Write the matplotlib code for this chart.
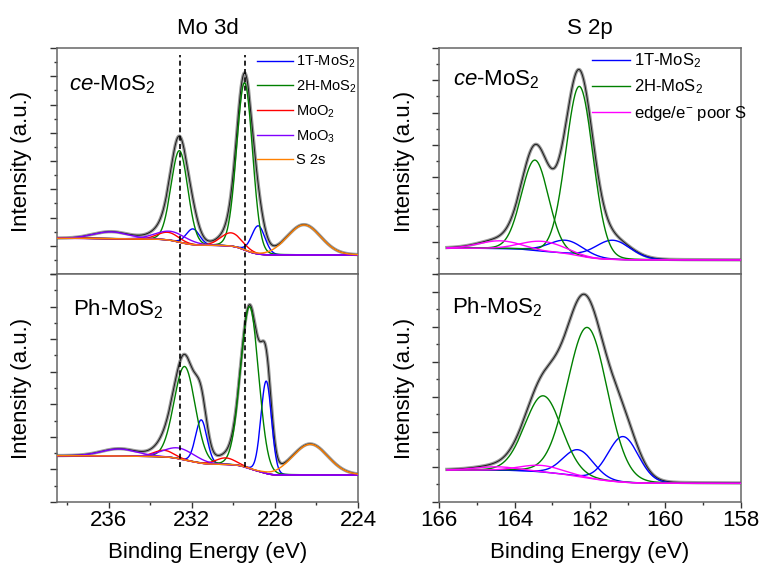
import numpy as np
import matplotlib
matplotlib.use("Agg")
import matplotlib.pyplot as plt
from matplotlib.ticker import MultipleLocator, NullFormatter

plt.rcParams['font.family'] = ['Liberation Sans', 'DejaVu Sans']
plt.rcParams['mathtext.fontset'] = 'custom'
plt.rcParams['mathtext.rm'] = 'Liberation Sans'
plt.rcParams['mathtext.it'] = 'Liberation Sans:italic'
plt.rcParams['mathtext.bf'] = 'Liberation Sans:bold'

# ---------------- data ----------------
# binding-energy windows
mo_range = [238.5, 224.0]
s_range = [165.8, 158.0]
dash_positions = [232.58, 229.46]

# Mo 3d, ce-MoS2 : [centre eV], [height a.u.], [FWHM eV]
mo_ce_bg = [15.8, 8.4]
mo_ce_1t_pos = [228.8, 231.95]; mo_ce_1t_amp = [12.5, 7.0]; mo_ce_1t_w = [0.75, 0.75]
mo_ce_2h_pos = [229.46, 232.6]; mo_ce_2h_amp = [74.0, 40.5]; mo_ce_2h_w = [0.9, 0.95]
mo_ce_o2_pos = [230.1, 233.15]; mo_ce_o2_amp = [5.9, 3.4]; mo_ce_o2_w = [1.2, 1.2]
mo_ce_o3_pos = [233.0, 235.9]; mo_ce_o3_amp = [4.0, 3.0]; mo_ce_o3_w = [1.8, 2.0]
mo_ce_s2s_pos = [226.6]; mo_ce_s2s_amp = [13.3]; mo_ce_s2s_w = [1.9]

# Mo 3d, Ph-MoS2
mo_ph_bg = [20.3, 11.8]
mo_ph_1t_pos = [228.42, 231.55]; mo_ph_1t_amp = [40.5, 19.0]; mo_ph_1t_w = [0.6, 0.65]
mo_ph_2h_pos = [229.22, 232.35]; mo_ph_2h_amp = [71.0, 41.0]; mo_ph_2h_w = [1.02, 1.2]
mo_ph_o2_pos = [230.38, 233.35]; mo_ph_o2_amp = [2.9, 2.9]; mo_ph_o2_w = [1.1, 1.1]
mo_ph_o3_pos = [232.6, 235.5]; mo_ph_o3_amp = [4.7, 3.1]; mo_ph_o3_w = [1.8, 2.0]
mo_ph_s2s_pos = [226.3]; mo_ph_s2s_amp = [13.5]; mo_ph_s2s_w = [2.0]

# S 2p, ce-MoS2
s_ce_bg = [11.4, 6.2]
s_ce_1t_pos = [161.4, 162.62]; s_ce_1t_amp = [8.5, 5.9]; s_ce_1t_w = [1.1, 1.1]
s_ce_2h_pos = [162.28, 163.46]; s_ce_2h_amp = [75.0, 40.0]; s_ce_2h_w = [0.85, 0.85]
s_ce_ed_pos = [163.24, 164.39]; s_ce_ed_amp = [4.4, 3.4]; s_ce_ed_w = [1.3, 1.3]

# S 2p, Ph-MoS2
s_ph_bg = [14.0, 8.2]
s_ph_1t_pos = [161.12, 162.31]; s_ph_1t_amp = [20.0, 11.7]; s_ph_1t_w = [0.95, 0.95]
s_ph_2h_pos = [162.07, 163.24]; s_ph_2h_amp = [66.0, 33.5]; s_ph_2h_w = [1.25, 1.15]
s_ph_ed_pos = [163.28, 164.48]; s_ph_ed_amp = [2.9, 1.5]; s_ph_ed_w = [1.3, 1.3]

mo_labels = ['1T-MoS$_2$', '2H-MoS$_2$', 'MoO$_2$', 'MoO$_3$', 'S 2s']
s_labels = ['1T-MoS$_2$', '2H-MoS$_2$', 'edge/e$^{-}$ poor S']
mo_colors = ['#0000FF', '#008000', '#FF0000', '#8000FF', '#FF8000']
s_colors = ['#0000FF', '#008000', '#FF00FF']

# ---------------- helpers ----------------
ETA = 0.05


def one_peak(x, c, a, f):
    u = (x - c) / f
    return a * ((1 - ETA) * np.exp(-4 * np.log(2) * u ** 2) + ETA / (1 + 4 * u ** 2))


def shirley(x, total, bg):
    # x ascending; bg = [high-BE side, low-BE side]
    cum = np.concatenate([[0], np.cumsum(0.5 * (total[1:] + total[:-1]) * np.diff(x))])
    frac = cum / cum[-1]
    return bg[1] + (bg[0] - bg[1]) * frac


def draw_panel(ax, xr, comps, bg_vals, colors, labels, shirley_n):
    x = np.linspace(min(xr), max(xr), 1500)
    singles = [[one_peak(x, c, a, f) for c, a, f in zip(*comp)] for comp in comps]
    sums = [sum(s) for s in singles]
    bg = shirley(x, sum(sums[:shirley_n]), bg_vals)
    env = bg + sum(sums)
    ax.plot(x, env, color='#9a9a9a', lw=2.4, zorder=2)
    ax.plot(x, env, color='#1a1a1a', lw=0.7, zorder=3)
    handles = []
    for k, (group, col, lab) in enumerate(zip(singles, colors, labels)):
        for j, p in enumerate(group):
            h, = ax.plot(x, bg + p, color=col, lw=1.0, zorder=4 + k * 0.1)
            if j == 0:
                h.set_label(lab)
                handles.append(h)
    return handles


fig = plt.figure(figsize=(7.6, 5.69), dpi=100)
W, H = 760, 569


def add_ax(l, t, r, b):
    return fig.add_axes([l / W, 1 - b / H, (r - l) / W, (b - t) / H])


ax_mc = add_ax(57, 48, 358, 274)
ax_mp = add_ax(57, 274, 358, 502)
ax_sc = add_ax(439.3, 48, 740.7, 274)
ax_sp = add_ax(439.3, 274, 740.7, 502)

mo_ce = [(mo_ce_1t_pos, mo_ce_1t_amp, mo_ce_1t_w), (mo_ce_2h_pos, mo_ce_2h_amp, mo_ce_2h_w),
         (mo_ce_o2_pos, mo_ce_o2_amp, mo_ce_o2_w), (mo_ce_o3_pos, mo_ce_o3_amp, mo_ce_o3_w),
         (mo_ce_s2s_pos, mo_ce_s2s_amp, mo_ce_s2s_w)]
mo_ph = [(mo_ph_1t_pos, mo_ph_1t_amp, mo_ph_1t_w), (mo_ph_2h_pos, mo_ph_2h_amp, mo_ph_2h_w),
         (mo_ph_o2_pos, mo_ph_o2_amp, mo_ph_o2_w), (mo_ph_o3_pos, mo_ph_o3_amp, mo_ph_o3_w),
         (mo_ph_s2s_pos, mo_ph_s2s_amp, mo_ph_s2s_w)]
s_ce = [(s_ce_1t_pos, s_ce_1t_amp, s_ce_1t_w), (s_ce_2h_pos, s_ce_2h_amp, s_ce_2h_w),
        (s_ce_ed_pos, s_ce_ed_amp, s_ce_ed_w)]
s_ph = [(s_ph_1t_pos, s_ph_1t_amp, s_ph_1t_w), (s_ph_2h_pos, s_ph_2h_amp, s_ph_2h_w),
        (s_ph_ed_pos, s_ph_ed_amp, s_ph_ed_w)]

h_mo = draw_panel(ax_mc, mo_range, mo_ce, mo_ce_bg, mo_colors, mo_labels, 4)
draw_panel(ax_mp, mo_range, mo_ph, mo_ph_bg, mo_colors, mo_labels, 4)
h_s = draw_panel(ax_sc, s_range, s_ce, s_ce_bg, s_colors, s_labels, 3)
draw_panel(ax_sp, s_range, s_ph, s_ph_bg, s_colors, s_labels, 3)

# dashed guide lines across both Mo panels
for xv in dash_positions:
    ax_mc.axvline(xv, ymin=0, ymax=0.969, color='black', lw=1.2, dashes=(3, 2), zorder=6)
    ax_mp.axvline(xv, ymin=0.154, ymax=1, color='black', lw=1.2, dashes=(3, 2), zorder=6)

spine_col = '#666666'
for ax, ymaj in [(ax_mc, 12.5), (ax_mp, 100 / 7), (ax_sc, 100 / 7), (ax_sp, 100 / 6.5)]:
    ax.set_ylim(0, 100)
    ax.yaxis.set_major_locator(MultipleLocator(ymaj))
    ax.yaxis.set_minor_locator(MultipleLocator(ymaj / 2))
    ax.yaxis.set_major_formatter(NullFormatter())
    ax.tick_params(axis='y', which='major', direction='out', length=5, width=1.0, color='#333333')
    ax.tick_params(axis='y', which='minor', direction='out', length=2.5, width=1.0, color='#333333')
    for s in ax.spines.values():
        s.set_color(spine_col)
        s.set_linewidth(1.1)
    ax.set_ylabel('Intensity (a.u.)', fontsize=16)
    ax.yaxis.set_label_coords(-0.082, 0.5)

for ax in (ax_mc, ax_mp):
    ax.set_xlim(238.5, 224)
    ax.xaxis.set_major_locator(MultipleLocator(4))
    ax.xaxis.set_minor_locator(MultipleLocator(2))
for ax in (ax_sc, ax_sp):
    ax.set_xlim(166, 158)
    ax.xaxis.set_major_locator(MultipleLocator(2))
    ax.xaxis.set_minor_locator(MultipleLocator(1))

for ax in (ax_mc, ax_sc):
    ax.tick_params(axis='x', which='both', bottom=False, labelbottom=False)
for ax in (ax_mp, ax_sp):
    ax.tick_params(axis='x', which='major', direction='out', length=4, width=1.0,
                   color='#333333', labelsize=16, pad=2)
    ax.tick_params(axis='x', which='minor', direction='out', length=2.5, width=1.0, color='#333333')
    ax.set_xlabel('Binding Energy (eV)', fontsize=16, labelpad=8)

ax_mc.set_title('Mo 3d', fontsize=16, pad=10)
ax_sc.set_title('S 2p', fontsize=16, pad=10)

ax_mc.text(0.04, 0.814, r'$\mathit{ce}$-MoS$_2$', transform=ax_mc.transAxes, fontsize=16, va='baseline')
ax_mp.text(0.054, 0.82, 'Ph-MoS$_2$', transform=ax_mp.transAxes, fontsize=16, va='baseline')
ax_sc.text(0.046, 0.836, r'$\mathit{ce}$-MoS$_2$', transform=ax_sc.transAxes, fontsize=16, va='baseline')
ax_sp.text(0.043, 0.829, 'Ph-MoS$_2$', transform=ax_sp.transAxes, fontsize=16, va='baseline')

ax_mc.legend(handles=h_mo, loc='upper left', bbox_to_anchor=(0.664, 0.975), frameon=False,
             fontsize=10.5, handlelength=2.45, handletextpad=0.2, labelspacing=0.58,
             borderpad=0, borderaxespad=0)
ax_sc.legend(handles=h_s, loc='upper left', bbox_to_anchor=(0.507, 0.985), frameon=False,
             fontsize=12, handlelength=2.3, handletextpad=0.2, labelspacing=0.45,
             borderpad=0, borderaxespad=0)

fig.savefig('out.png', dpi=100)
